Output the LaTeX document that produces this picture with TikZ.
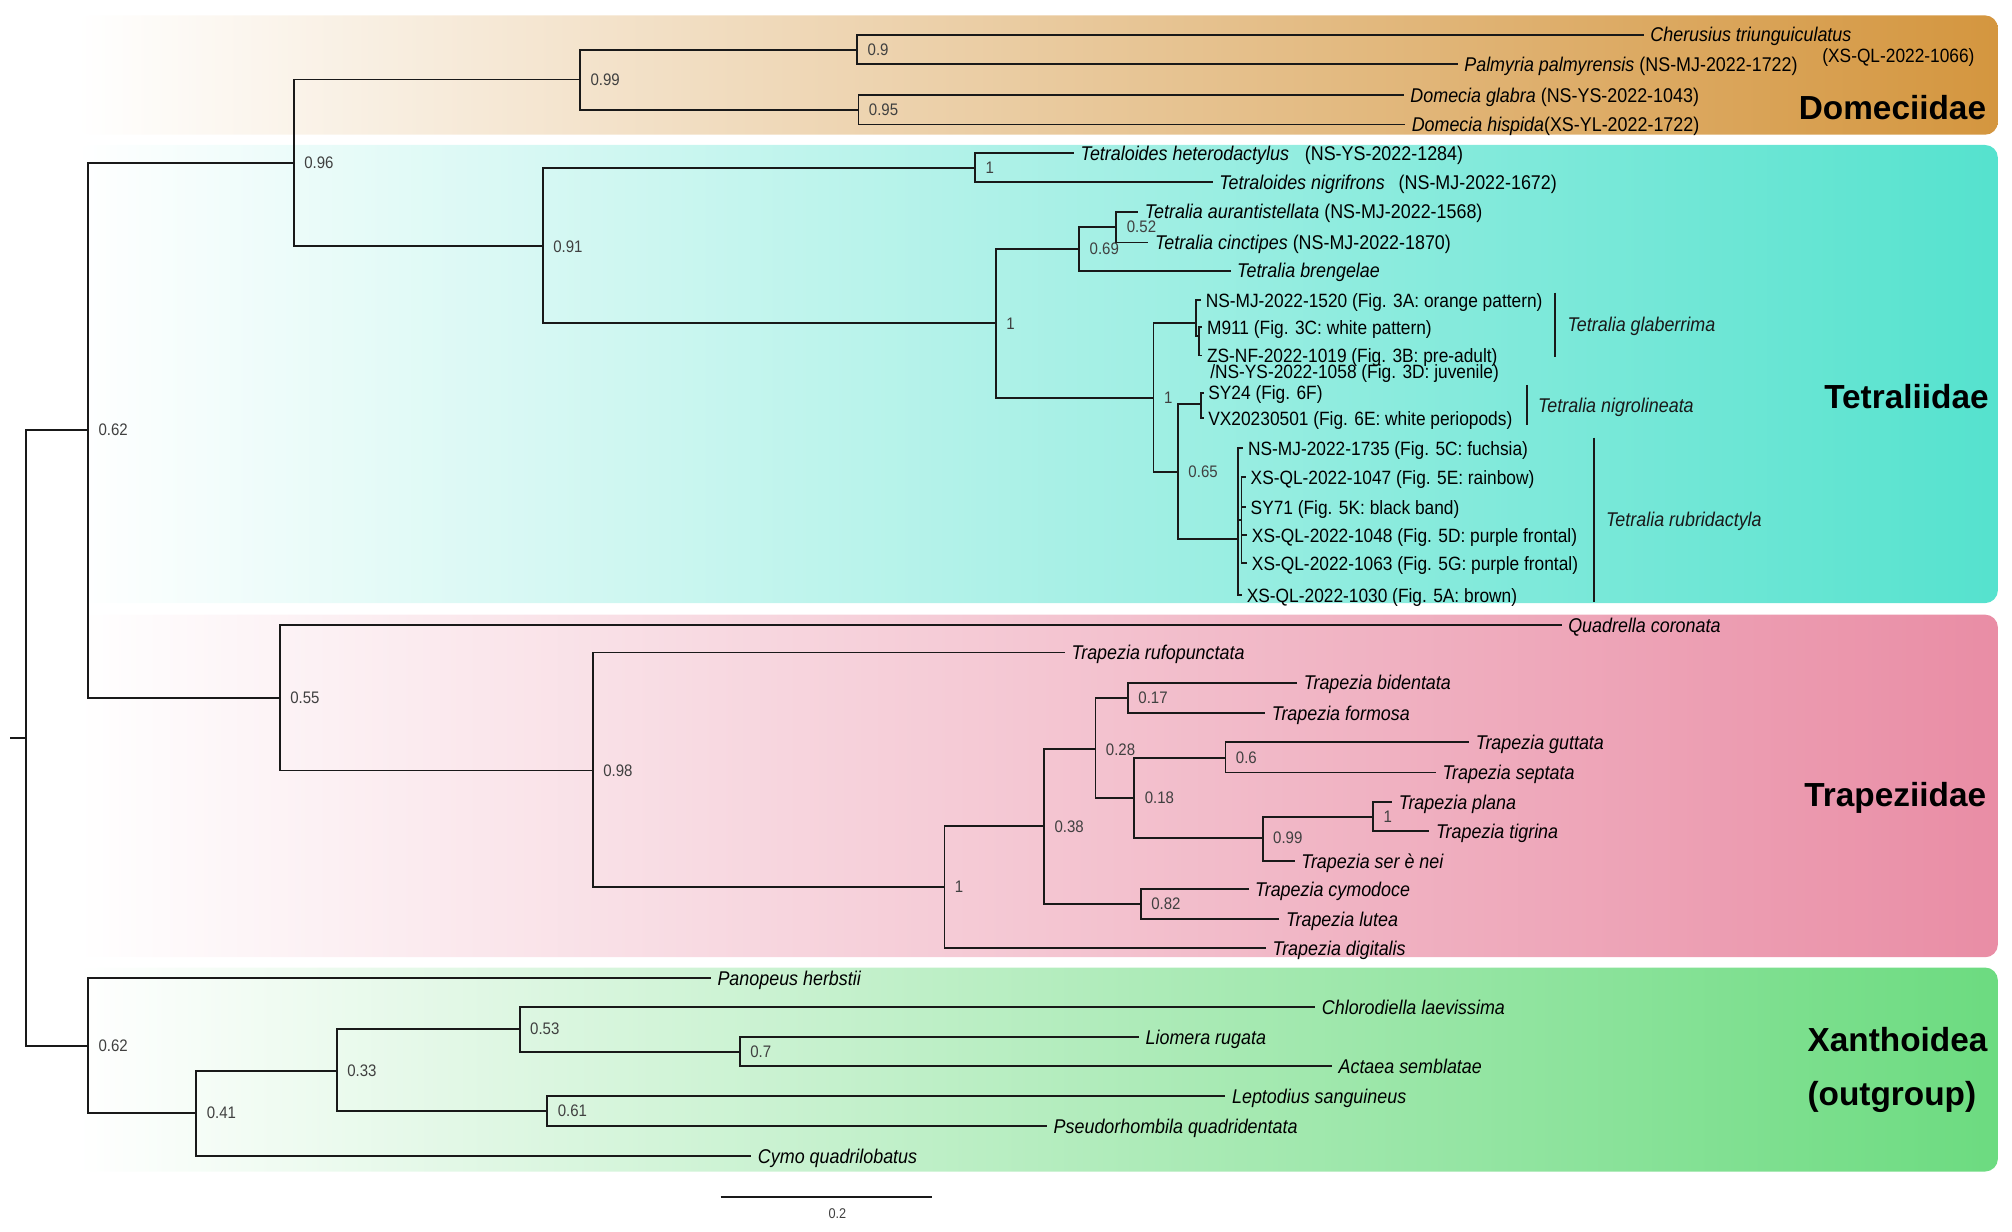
\documentclass[tikz,border=0pt]{standalone}
\usepackage{fontspec}
\setmainfont{Liberation Sans}[FakeStretch=0.9]
\newfontfamily\grpfont{Liberation Sans}
\newfontfamily\suppfont{Liberation Sans}[FakeStretch=0.9]
\usepackage{tikz}
\definecolor{domec}{HTML}{D4963F}
\definecolor{tetra}{HTML}{55E2CE}
\definecolor{trape}{HTML}{E98DA5}
\definecolor{xanth}{HTML}{6CDB80}

\begin{document}
\begin{tikzpicture}[x=1pt,y=-1pt,
  br/.style={black!90,line width=1.4pt},
  taxon/.style={anchor=west,inner xsep=5pt,inner ysep=0pt,text height=11.3pt,text depth=0pt,font=\fontsize{15.5}{16}\selectfont},
  specimen/.style={taxon,inner xsep=3.5pt,font=\fontsize{15}{16}\selectfont},
  spn/.style={taxon,inner xsep=9pt},
  supp/.style={anchor=west,inner sep=0pt,xshift=8pt,text=black!75,font=\suppfont\fontsize{13}{13}\selectfont},
  grp/.style={inner sep=0pt,font=\grpfont\bfseries\fontsize{26}{26}\selectfont},
  band/.style={rounded corners=10pt,left color=white}]
  \useasboundingbox (0,0) rectangle (1568,960);
  % clade bands
  \shade[band,right color=domec] (60,12) rectangle (1557,105);
  \shade[band,right color=tetra] (60,113) rectangle (1557,470);
  \shade[band,right color=trape] (60,479) rectangle (1557,746);
  \shade[band,right color=xanth] (60,754) rectangle (1557,913);
  % internal nodes with support values
  \foreach \n/\x/\y/\s in {ingrp/68.6/335/0.62, n096/229/127/0.96, n099/452/62/0.99, n09/668/39/0.9,
      n095/669/85.5/0.95, n091/423/192/0.91, n1a/760/131/1, n1b/776/252/1, n069/841/194/0.69,
      n052/870/177/0.52, n1c/899/310/1, nlow/918/368/0.65, n055/218/544/0.55, n098/462/600.5/0.98,
      n1t/736/691/1, n038/813.6/644/0.38, n028/853.7/584/0.28, n017/879/544/0.17, n018/884/622/0.18,
      n06/955/590.5/0.6, n099t/984/653/0.99, n1p/1070/636.5/1, n082/889/704.5/0.82,
      outgrp/68.6/815/0.62, n041/153/867.5/0.41, n033/262.5/834.5/0.33, n053/405/802/0.53,
      n07/576.5/820/0.7, n061/426.5/866/0.61}
    {\coordinate (\n) at (\x,\y); \node[supp] (s\n) at (\n) {\s};}
  \coordinate (stub) at (8,575);
  \coordinate (root) at (20,575);
  \coordinate (ngla) at (932,252);
  \coordinate (gin) at (934.5,262);
  \coordinate (nnig) at (936,315);
  \coordinate (nrub) at (965,420);
  \coordinate (rin) at (967.5,405);
  % Domeciidae
  \node[taxon] (cher) at (1281,27) {\textit{Cherusius triunguiculatus}};
  \node[specimen,inner xsep=0pt] (cherid) at (1420,43) {(XS-QL-2022-1066)};
  \node[taxon] (palm) at (1136,50) {\textit{Palmyria palmyrensis} (NS-MJ-2022-1722)};
  \node[taxon] (dgla) at (1094,74) {\textit{Domecia glabra}\ (NS-YS-2022-1043)};
  \node[taxon] (dhis) at (1095,97) {\textit{Domecia hispida}(XS-YL-2022-1722)};
  % Tetraliidae
  \node[taxon] (thet) at (837,119.5) {\textit{Tetraloides heterodactylus}\hspace{0.8em}(NS-YS-2022-1284)};
  \node[taxon] (tnig) at (945,142) {\textit{Tetraloides nigrifrons}\hspace{0.7em}(NS-MJ-2022-1672)};
  \node[taxon] (taur) at (887,165) {\textit{Tetralia aurantistellata} (NS-MJ-2022-1568)};
  \node[taxon] (tcin) at (895,189) {\textit{Tetralia cinctipes} (NS-MJ-2022-1870)};
  \node[taxon] (tbre) at (959,211) {\textit{Tetralia brengelae}};
  \node[specimen] (g1) at (936,234) {NS-MJ-2022-1520 (Fig. 3A: orange pattern)};
  \node[specimen] (g2) at (937,255) {M911 (Fig. 3C: white pattern)};
  \node[specimen] (g3) at (937,277) {ZS-NF-2022-1019 (Fig. 3B: pre-adult)};
  \node[specimen,inner xsep=0pt] (g3b) at (943,289.5) {/NS-YS-2022-1058 (Fig. 3D: juvenile)};
  \node[specimen] (s24) at (938,306) {SY24 (Fig. 6F)};
  \node[specimen] (vx) at (938,326) {VX20230501 (Fig. 6E: white periopods)};
  \node[specimen] (r1) at (969,349) {NS-MJ-2022-1735 (Fig. 5C: fuchsia)};
  \node[specimen] (r2) at (971,372) {XS-QL-2022-1047 (Fig. 5E: rainbow)};
  \node[specimen] (r3) at (971,395) {SY71 (Fig. 5K: black band)};
  \node[specimen] (r4) at (972,417) {XS-QL-2022-1048 (Fig. 5D: purple frontal)};
  \node[specimen] (r5) at (972,439) {XS-QL-2022-1063 (Fig. 5G: purple frontal)};
  \node[specimen] (r6) at (968,464) {XS-QL-2022-1030 (Fig. 5A: brown)};
  % Trapeziidae
  \node[taxon] (quad) at (1217,487) {\textit{Quadrella coronata}};
  \node[taxon] (trufo) at (830,508.5) {\textit{Trapezia rufopunctata}};
  \node[taxon] (tbid) at (1011,532) {\textit{Trapezia bidentata}};
  \node[taxon] (tfor) at (986,555.5) {\textit{Trapezia formosa}};
  \node[taxon] (tgut) at (1145,578.5) {\textit{Trapezia guttata}};
  \node[taxon] (tsep) at (1119,602) {\textit{Trapezia septata}};
  \node[taxon] (tpla) at (1085,625) {\textit{Trapezia plana}};
  \node[taxon] (ttig) at (1114,647.5) {\textit{Trapezia tigrina}};
  \node[taxon] (tser) at (1009,671) {\textit{Trapezia ser è nei}};
  \node[taxon] (tcym) at (973,693) {\textit{Trapezia cymodoce}};
  \node[taxon] (tlut) at (997,716) {\textit{Trapezia lutea}};
  \node[taxon] (tdig) at (986.6,739) {\textit{Trapezia digitalis}};
  % Xanthoidea
  \node[taxon] (panop) at (554,762) {\textit{Panopeus herbstii}};
  \node[taxon] (chlo) at (1025,785) {\textit{Chlorodiella laevissima}};
  \node[taxon] (liom) at (887.6,808) {\textit{Liomera rugata}};
  \node[taxon] (acta) at (1038,831) {\textit{Actaea semblatae}};
  \node[taxon] (lept) at (955,854) {\textit{Leptodius sanguineus}};
  \node[taxon] (pseu) at (816,877.5) {\textit{Pseudorhombila quadridentata}};
  \node[taxon] (cymo) at (585.5,901) {\textit{Cymo quadrilobatus}};
  % branches
  \draw[br] (stub) -- (root);
  \foreach \a/\b in {root/ingrp, root/outgrp, ingrp/n096, ingrp/n055, n096/n099, n096/n091,
      n099/n09, n099/n095, n09/cher, n09/palm, n095/dgla, n095/dhis,
      n091/n1a, n091/n1b, n1a/thet, n1a/tnig, n1b/n069, n1b/n1c, n069/n052, n069/tbre,
      n052/taur, n052/tcin, n1c/ngla, n1c/nlow, ngla/g1, ngla/gin, gin/g2, gin/g3,
      nlow/nnig, nlow/nrub, nnig/s24, nnig/vx, nrub/r1, nrub/rin, nrub/r6,
      rin/r2, rin/r3, rin/r4, rin/r5,
      n055/quad, n055/n098, n098/trufo, n098/n1t, n1t/n038, n1t/tdig, n038/n028, n038/n082,
      n028/n017, n028/n018, n017/tbid, n017/tfor, n018/n06, n018/n099t, n06/tgut, n06/tsep,
      n099t/n1p, n099t/tser, n1p/tpla, n1p/ttig, n082/tcym, n082/tlut,
      outgrp/panop, outgrp/n041, n041/n033, n041/cymo, n033/n053, n033/n061,
      n053/chlo, n053/n07, n07/liom, n07/acta, n061/lept, n061/pseu}
    \draw[br] (\a) |- (\b);
  % species brackets
  \draw[br] (1212,228) -- (1212,278) node[spn,midway] (sgla) {\textit{Tetralia glaberrima}};
  \draw[br] (1190,300) -- (1190,331) node[spn,midway,inner xsep=8pt] (snig) {\textit{Tetralia nigrolineata}};
  \draw[br] (1242,341) -- (1242,469) node[spn,midway] (srub) {\textit{Tetralia rubridactyla}};
  % clade names
  \node[grp,anchor=east] (gdom) at (1548,84) {Domeciidae};
  \node[grp,anchor=east] (gtet) at (1550,309) {Tetraliidae};
  \node[grp,anchor=east] (gtra) at (1548,622) {Trapeziidae};
  \node[grp,anchor=east] (gxan) at (1549,810) {Xanthoidea};
  \path (gxan.west) ++(0,45) node[grp,anchor=west] (gout) {(outgroup)};
  % scale bar
  \coordinate (sb0) at (561.6,932.6);
  \coordinate (sb1) at (726.6,932.6);
  \draw[br] (sb0) -- (sb1);
  \node[supp,anchor=center,xshift=0pt,font=\suppfont\fontsize{11}{11}\selectfont] (sbl) at (644.6,946) {0.2};
\end{tikzpicture}
\end{document}
